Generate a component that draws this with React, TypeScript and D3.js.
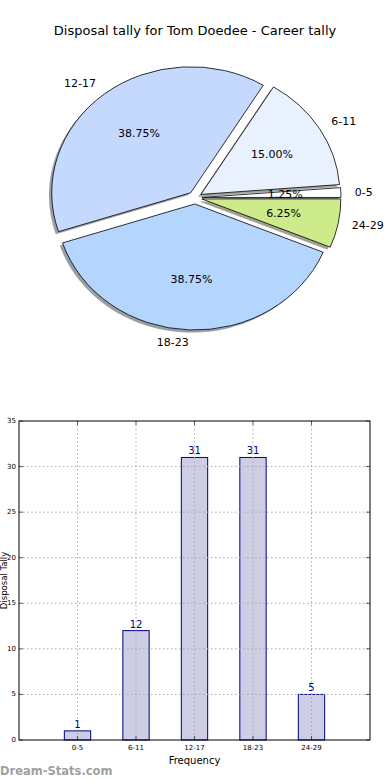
import React, { useEffect, useRef } from "react";
import { select, pie, arc, scaleLinear, color as d3color } from "d3";

const categories = ["0-5", "6-11", "12-17", "18-23", "24-29"];
const tallies = [1, 12, 31, 31, 5];
const sliceColors = ["#ffffff", "#e9f0fe", "#c5d9fe", "#b4d5fd", "#cdeb8b"];
const explode = [0.05, 0.05, 0.05, 0.05, 0.05];
const yTicks = [0, 5, 10, 15, 20, 25, 30, 35];

const title = "Disposal tally for Tom Doedee - Career tally";
const font = "DejaVu Sans, sans-serif";

const App: React.FC = () => {
  const svgRef = useRef<SVGSVGElement | null>(null);

  useEffect(() => {
    const svg = select(svgRef.current);
    svg.selectAll("*").remove();

    svg
      .append("text")
      .attr("x", 195)
      .attr("y", 35)
      .attr("text-anchor", "middle")
      .attr("font-family", font)
      .attr("font-size", 13)
      .text(title);

    // ---- pie (matplotlib style: ccw from 3 o'clock, elliptical axes)
    const cx = 195;
    const cy = 197.7;
    const rx = 139;
    const ry = 126;
    const total = tallies.reduce((a, b) => a + b, 0);

    const slices = pie<number>()
      .sort(null)
      .startAngle(Math.PI / 2)
      .endAngle(Math.PI / 2 - 2 * Math.PI)(tallies);

    const unitArc = arc<any>().innerRadius(0).outerRadius(1);
    const pieG = svg.append("g");

    const offsetOf = (i: number) => {
      const mid = (slices[i].startAngle + slices[i].endAngle) / 2;
      return [
        cx + Math.sin(mid) * explode[i] * rx,
        cy - Math.cos(mid) * explode[i] * ry,
        mid,
      ];
    };

    // shadows first, under every wedge
    slices.forEach((s, i) => {
      const [ox, oy] = offsetOf(i);
      const c = d3color(sliceColors[i])!.rgb();
      pieG
        .append("path")
        .attr("transform", `translate(${ox - 0.02 * rx},${oy + 0.02 * ry}) scale(${rx},${ry})`)
        .attr("d", unitArc(s) as string)
        .attr("fill", `rgb(${c.r * 0.3},${c.g * 0.3},${c.b * 0.3})`)
        .attr("fill-opacity", 0.5);
    });

    slices.forEach((s, i) => {
      const [ox, oy, mid] = offsetOf(i);
      pieG
        .append("path")
        .attr("transform", `translate(${ox},${oy}) scale(${rx},${ry})`)
        .attr("d", unitArc(s) as string)
        .attr("fill", sliceColors[i])
        .attr("stroke", "#000")
        .attr("stroke-width", 0.8)
        .attr("vector-effect", "non-scaling-stroke");

      const sx = Math.sin(mid);
      const sy = -Math.cos(mid);
      pieG
        .append("text")
        .attr("x", ox + sx * 1.1 * rx)
        .attr("y", oy + sy * 1.1 * ry)
        .attr("text-anchor", sx > 0 ? "start" : "end")
        .attr("dominant-baseline", "central")
        .attr("font-family", font)
        .attr("font-size", 11)
        .text(categories[i]);

      pieG
        .append("text")
        .attr("x", ox + sx * 0.6 * rx)
        .attr("y", oy + sy * 0.6 * ry)
        .attr("text-anchor", "middle")
        .attr("dominant-baseline", "central")
        .attr("font-family", font)
        .attr("font-size", 11)
        .text(`${((tallies[i] / total) * 100).toFixed(2)}%`);
    });

    // ---- bar chart
    const left = 19;
    const right = 370;
    const top = 421;
    const bottom = 740;
    const x = scaleLinear().domain([-1, categories.length]).range([left, right]);
    const y = scaleLinear().domain([0, 35]).range([bottom, top]);
    const barW = x(0.45) - x(0);

    const barG = svg.append("g");

    barG
      .selectAll("rect.bar")
      .data(tallies)
      .join("rect")
      .attr("class", "bar")
      .attr("x", (_d, i) => x(i) - barW / 2)
      .attr("y", (d) => y(d))
      .attr("width", barW)
      .attr("height", (d) => bottom - y(d))
      .attr("fill", "#cdcde4")
      .attr("stroke", "#000080")
      .attr("stroke-width", 1);

    // dotted grid drawn over the bars
    const grid = barG
      .append("g")
      .attr("stroke", "#aaa")
      .attr("stroke-width", 1)
      .attr("stroke-dasharray", "1.5,2.5");
    yTicks.slice(1, -1).forEach((t) => {
      grid.append("line").attr("x1", left).attr("x2", right).attr("y1", y(t)).attr("y2", y(t));
    });
    categories.forEach((_c, i) => {
      grid.append("line").attr("x1", x(i)).attr("x2", x(i)).attr("y1", top).attr("y2", bottom);
    });

    barG
      .selectAll("text.val")
      .data(tallies)
      .join("text")
      .attr("class", "val")
      .attr("x", (_d, i) => x(i))
      .attr("y", (d) => y(d) - 3)
      .attr("text-anchor", "middle")
      .attr("font-family", font)
      .attr("font-size", 10)
      .attr("fill", "#00008b")
      .text((d) => d);

    barG
      .append("rect")
      .attr("x", left)
      .attr("y", top)
      .attr("width", right - left)
      .attr("height", bottom - top)
      .attr("fill", "none")
      .attr("stroke", "#000")
      .attr("stroke-width", 1);

    const ticks = barG.append("g").attr("stroke", "#000").attr("stroke-width", 0.6);
    yTicks.forEach((t) => {
      ticks.append("line").attr("x1", left).attr("x2", left + 4).attr("y1", y(t)).attr("y2", y(t));
      ticks.append("line").attr("x1", right - 4).attr("x2", right).attr("y1", y(t)).attr("y2", y(t));
      barG
        .append("text")
        .attr("x", left - 3)
        .attr("y", y(t))
        .attr("text-anchor", "end")
        .attr("dominant-baseline", "central")
        .attr("font-family", font)
        .attr("font-size", 7)
        .text(t);
    });
    categories.forEach((c, i) => {
      ticks.append("line").attr("x1", x(i)).attr("x2", x(i)).attr("y1", bottom - 4).attr("y2", bottom);
      ticks.append("line").attr("x1", x(i)).attr("x2", x(i)).attr("y1", top).attr("y2", top + 4);
      barG
        .append("text")
        .attr("x", x(i))
        .attr("y", bottom + 10)
        .attr("text-anchor", "middle")
        .attr("font-family", font)
        .attr("font-size", 7)
        .text(c);
    });

    barG
      .append("text")
      .attr("x", (left + right) / 2)
      .attr("y", 764)
      .attr("text-anchor", "middle")
      .attr("font-family", font)
      .attr("font-size", 10)
      .text("Frequency");

    barG
      .append("text")
      .attr("transform", `translate(7,${(top + bottom) / 2}) rotate(-90)`)
      .attr("text-anchor", "middle")
      .attr("font-family", font)
      .attr("font-size", 8.5)
      .text("Disposal Tally");

    svg
      .append("text")
      .attr("x", 0)
      .attr("y", 775)
      .attr("font-family", font)
      .attr("font-size", 11.5)
      .attr("font-weight", "bold")
      .attr("fill", "#a0a0a0")
      .text("Dream-Stats.com");
  }, []);

  return (
    <svg
      ref={svgRef}
      width={390}
      height={780}
      style={{ position: "absolute", top: 0, left: 0, background: "#fff" }}
    />
  );
};

export default App;
